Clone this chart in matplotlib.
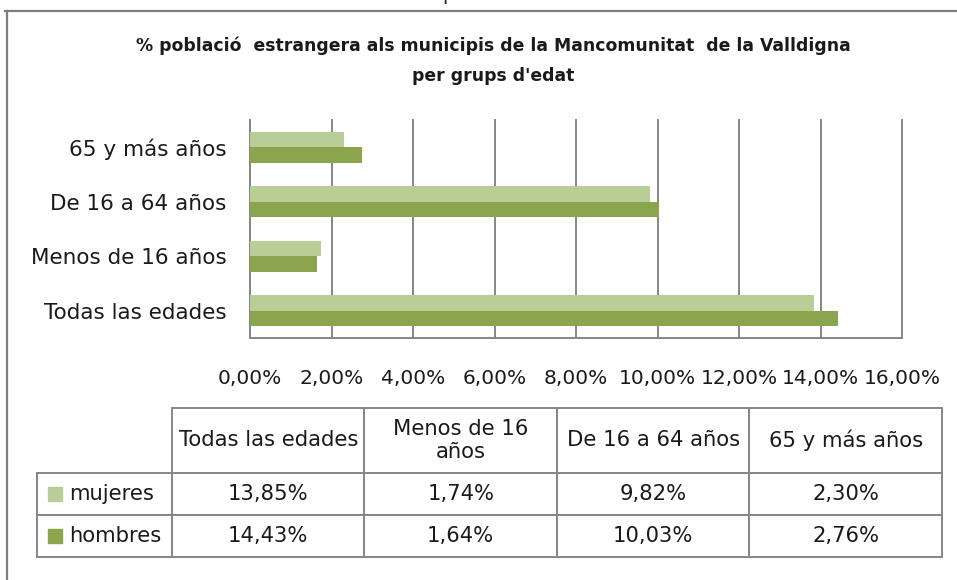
import matplotlib
matplotlib.use("Agg")
import matplotlib.pyplot as plt
from matplotlib.patches import Rectangle
from matplotlib.ticker import FuncFormatter

# datos
grupos = ["Todas las edades", "Menos de 16 años", "De 16 a 64 años", "65 y más años"]
cabecera = ["Todas las edades", "Menos de 16\naños", "De 16 a 64 años", "65 y más años"]
series = ["mujeres", "hombres"]
mujeres = [13.85, 1.74, 9.82, 2.30]
hombres = [14.43, 1.64, 10.03, 2.76]
ticks_x = [0, 2, 4, 6, 8, 10, 12, 14, 16]

c_muj = "#b9cd96"
c_hom = "#8ba54f"
gris = "#868686"
W, H = 957, 580

def pct(v):
    return ("%.2f%%" % v).replace(".", ",")

fig = plt.figure(figsize=(W / 100, H / 100), dpi=100)

# capa de fondo en pixeles (marco, tabla, leyenda)
fondo = fig.add_axes([0, 0, 1, 1])
fondo.set_xlim(0, W)
fondo.set_ylim(H, 0)
fondo.axis("off")
fondo.plot([5, W], [11, 11], color="#7f7f7f", lw=1.6)
fondo.plot([7, 7], [11, H], color="#7f7f7f", lw=1.6)
# resto del texto de encima, cortado como en la captura
fondo.text(483, -0.5, "població", ha="center", va="baseline", fontsize=14,
           color="#222222", clip_on=False)

fig.text(493 / W, 1 - 46 / H,
         "% població  estrangera als municipis de la Mancomunitat  de la Valldigna",
         ha="center", va="center", fontsize=12.4, fontweight="bold",
         family=["Liberation Sans Narrow", "DejaVu Sans"], color="#1a1a1a")
fig.text(493 / W, 1 - 76 / H, "per grups d'edat",
         ha="center", va="center", fontsize=12.4, fontweight="bold",
         family=["Liberation Sans Narrow", "DejaVu Sans"], color="#1a1a1a")

# grafico de barras
ax = fig.add_axes([250 / W, 1 - 338 / H, 652 / W, 218 / H])
pos = list(range(len(grupos)))
alto = 0.285
ax.barh([p + alto / 2 for p in pos], mujeres, height=alto, color=c_muj, zorder=3)
ax.barh([p - alto / 2 for p in pos], hombres, height=alto, color=c_hom, zorder=3)
ax.set_xlim(0, 16)
ax.set_ylim(-0.5, 3.5)
ax.set_xticks(ticks_x)
ax.xaxis.set_major_formatter(FuncFormatter(lambda v, _: pct(v)))
ax.set_yticks(pos)
ax.set_yticklabels(grupos)
ax.grid(axis="x", color=gris, lw=1.4, zorder=0)
for gl in ax.get_xgridlines():
    gl.set_clip_on(False)
for s in ["top", "right"]:
    ax.spines[s].set_visible(False)
for s in ["left", "bottom"]:
    ax.spines[s].set_color(gris)
    ax.spines[s].set_linewidth(1.4)
ax.tick_params(axis="x", length=0, pad=22, labelsize=14.5, labelcolor="#1a1a1a")
ax.tick_params(axis="y", length=0, pad=17, labelsize=15.5, labelcolor="#1a1a1a")

# tabla de datos (primera columna = nombre de la serie)
filas = [[series[0]] + [pct(v) for v in mujeres],
         [series[1]] + [pct(v) for v in hombres]]
x0, x1, y0, y1 = 37, 942, 408, 557
tab = fondo.table(cellText=filas, colLabels=[""] + cabecera, cellLoc="center",
                  colWidths=[135 / 905] + [192.5 / 905] * 4,
                  bbox=[x0 / W, 1 - y1 / H, (x1 - x0) / W, (y1 - y0) / H])
tab.auto_set_font_size(False)
tab.set_fontsize(15.2)
for (r, c), cell in tab.get_celld().items():
    cell.set_edgecolor(gris)
    cell.set_linewidth(1.4)
    cell.set_height(65 if r == 0 else 42)
    cell.get_text().set_color("#1a1a1a")
    if c == 0:
        cell.get_text().set_horizontalalignment("left")
        cell.PAD = 0.24
        cell._loc = "left"
tab[(0, 0)].visible_edges = ""

for i, col in enumerate([c_muj, c_hom]):
    yc = 493.5 + i * 42
    fondo.add_patch(Rectangle((48, yc - 7), 14, 14, color=col, zorder=5))

fig.savefig("out.png", dpi=100)
